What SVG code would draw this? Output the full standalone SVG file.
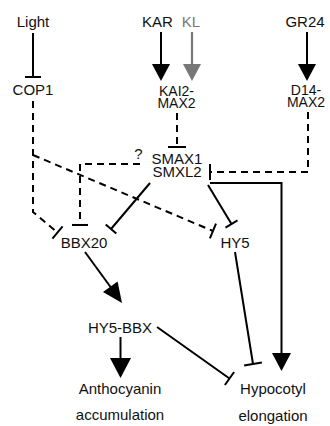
<svg xmlns="http://www.w3.org/2000/svg" width="330" height="426" viewBox="0 0 330 426">
<style>
text{font-family:"Liberation Sans",Arial,sans-serif;font-size:15px;fill:#111;text-anchor:middle}
.t{font-size:14px}
.s{stroke:#000;stroke-width:2;fill:none}
.d{stroke:#000;stroke-width:2;fill:none;stroke-dasharray:7,5}
.g{stroke:#777;stroke-width:2.2;fill:none}
.h{fill:#000}
</style>
<rect width="330" height="426" fill="#fff"/>
<g id="connectors">
<line class="s" x1="33" y1="33" x2="33" y2="77"/><line class="s" x1="25" y1="77" x2="41" y2="77"/>
<line class="s" x1="161" y1="32" x2="161" y2="66"/><polygon class="h" points="152,64 170,64 161,81"/>
<line class="g" x1="192" y1="32" x2="192" y2="66"/><polygon fill="#777" points="183,64 201,64 192,81"/>
<line class="s" x1="307" y1="32" x2="307" y2="66"/><polygon class="h" points="298,64 316,64 307,81"/>
<line class="d" x1="177" y1="113" x2="177" y2="147"/><line class="s" x1="168" y1="147" x2="186" y2="147"/>
<polyline class="d" points="308,112 308,172 211,172"/><line class="s" x1="210" y1="164" x2="210" y2="180"/>
<polyline class="d" points="33,101 33,212 57.5,232.5"/><line class="s" x1="62.6" y1="226.4" x2="52.4" y2="238.6"/>
<line class="d" x1="33" y1="155" x2="213" y2="231"/><line class="s" x1="216" y1="223.6" x2="209.9" y2="238.4"/>
<polyline class="d" points="140,164 80,164 80,225"/><line class="s" x1="72" y1="225" x2="88" y2="225"/>
<line class="s" x1="150" y1="183" x2="111" y2="229"/><line class="s" x1="105.7" y1="224.5" x2="116.3" y2="233.5"/>
<line class="s" x1="208" y1="185" x2="231.5" y2="224"/><line class="s" x1="225.5" y1="227.6" x2="237.5" y2="220.4"/>
<polyline class="s" points="210,183 281.5,183 281.5,355"/><polygon class="h" points="272,353 291,353 281.5,371"/>
<line class="s" x1="85" y1="252" x2="112" y2="289"/><polygon class="h" points="103,292.1 117.6,281.5 122,303"/>
<line class="s" x1="120.5" y1="337" x2="120.5" y2="360"/><polygon class="h" points="110,358 131,358 120.5,378"/>
<line class="s" x1="157" y1="327" x2="229.5" y2="378.5"/><line class="s" x1="234.1" y1="372" x2="224.9" y2="385"/>
<line class="s" x1="235" y1="252" x2="253" y2="364"/><line class="s" x1="244.1" y1="365.4" x2="261.9" y2="362.6"/>
</g>
<g id="light"><text x="33" y="27">Light</text></g>
<g id="kar"><text x="157.5" y="27">KAR</text></g>
<g id="kl"><text x="191" y="27" style="fill:#777">KL</text></g>
<g id="gr24"><text x="305" y="27">GR24</text></g>
<g id="cop1"><text x="33" y="95">COP1</text></g>
<g id="kai2"><text class="t" x="176.5" y="96">KAI2-</text><text class="t" x="176.5" y="108">MAX2</text></g>
<g id="d14"><text class="t" x="306" y="95">D14-</text><text class="t" x="306" y="107">MAX2</text></g>
<g id="smax1"><text x="177" y="164">SMAX1</text><text x="177" y="177">SMXL2</text></g>
<g id="q"><text x="138.5" y="159">?</text></g>
<g id="bbx20"><text x="84" y="248">BBX20</text></g>
<g id="hy5"><text x="235" y="248">HY5</text></g>
<g id="hy5bbx"><text x="120" y="333">HY5-BBX</text></g>
<g id="antho"><text x="120" y="394">Anthocyanin</text><text x="120" y="420">accumulation</text></g>
<g id="hypo"><text x="273" y="394">Hypocotyl</text><text x="273" y="421">elongation</text></g>
</svg>
